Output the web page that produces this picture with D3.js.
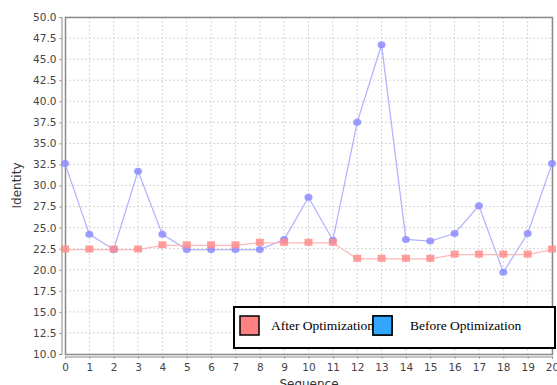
<!DOCTYPE html>
<html>
<head>
<meta charset="utf-8">
<script src="https://cdn.jsdelivr.net/npm/d3@7"></script>
<style>
  body { margin: 0; background: #fff; }
  svg { display: block; }
</style>
</head>
<body>
<div id="chart"></div>
<script>
var sequence = d3.range(0, 21);
var afterOpt = [22.4, 22.4, 22.4, 22.4, 22.9, 22.9, 22.9, 22.9, 23.2, 23.2, 23.2, 23.2,
  21.3, 21.3, 21.3, 21.3, 21.8, 21.8, 21.8, 21.8, 22.4];
var beforeOpt = [32.6, 24.2, 22.4, 31.7, 24.2, 22.4, 22.4, 22.4, 22.4, 23.6, 28.6, 23.5,
  37.5, 46.7, 23.6, 23.4, 24.3, 27.6, 19.7, 24.3, 32.6];
var yTicks = d3.range(10, 50.01, 2.5);
var seriesNames = ["After Optimization", "Before Optimization"];

var W = 557, H = 385;
var plot = { left: 65, right: 553, top: 17, bottom: 354 };

var svg = d3.select("#chart").append("svg")
  .attr("width", W)
  .attr("height", H);

var x = d3.scaleLinear().domain([0, 20]).range([plot.left, plot.right - 1]);
var y = d3.scaleLinear().domain([10, 50]).range([plot.bottom, plot.top]);

// grid
svg.append("g").selectAll("line.gx")
  .data(sequence.slice(1))
  .join("line")
  .attr("x1", d => x(d)).attr("x2", d => x(d))
  .attr("y1", plot.top).attr("y2", plot.bottom)
  .attr("stroke", "#d4d4d4").attr("stroke-dasharray", "2,2");
svg.append("g").selectAll("line.gy")
  .data(yTicks.slice(1))
  .join("line")
  .attr("x1", plot.left).attr("x2", plot.right)
  .attr("y1", d => y(d)).attr("y2", d => y(d))
  .attr("stroke", "#d4d4d4").attr("stroke-dasharray", "2,2");

// plot border
svg.append("rect")
  .attr("x", plot.left + 0.5).attr("y", plot.top + 0.5)
  .attr("width", plot.right - plot.left - 1)
  .attr("height", plot.bottom - plot.top)
  .attr("fill", "none").attr("stroke", "#8a8a8a").attr("stroke-width", 1.5);

// axes
var yAxis = svg.append("g")
  .attr("transform", "translate(61.5,0)")
  .call(d3.axisLeft(y).tickValues(yTicks).tickFormat(d3.format(".1f")).tickSize(2).tickPadding(3));
var xAxis = svg.append("g")
  .attr("transform", "translate(0,356.5)")
  .call(d3.axisBottom(x).tickValues(sequence).tickFormat(d3.format("d")).tickSize(2).tickPadding(5));
[yAxis, xAxis].forEach(function (a) {
  a.select(".domain").attr("stroke", "#8a8a8a");
  a.selectAll(".tick line").attr("stroke", "#8a8a8a");
  a.selectAll("text").attr("fill", "#444")
    .style("font-family", "'DejaVu Sans', sans-serif").style("font-size", "10.5px");
});

svg.append("text")
  .attr("transform", "translate(21," + ((plot.top + plot.bottom) / 2) + ") rotate(-90)")
  .attr("text-anchor", "middle")
  .style("font-family", "'DejaVu Sans', sans-serif").style("font-size", "12px")
  .attr("fill", "#333")
  .text("Identity");
svg.append("text")
  .attr("x", (plot.left + plot.right) / 2).attr("y", 388)
  .attr("text-anchor", "middle")
  .style("font-family", "'DejaVu Sans', sans-serif").style("font-size", "12px")
  .attr("fill", "#333")
  .text("Sequence");

// lines
var line = d3.line().x((d, i) => x(sequence[i])).y(d => y(d));
svg.append("path").datum(beforeOpt)
  .attr("d", line).attr("fill", "none")
  .attr("stroke", "#b4b4ff").attr("stroke-width", 1.3);
svg.append("path").datum(afterOpt)
  .attr("d", line).attr("fill", "none")
  .attr("stroke", "#ffb8b8").attr("stroke-width", 1.3);

svg.append("g").selectAll("ellipse")
  .data(beforeOpt)
  .join("ellipse")
  .attr("cx", (d, i) => x(sequence[i])).attr("cy", d => y(d))
  .attr("rx", 4).attr("ry", 3.5)
  .attr("fill", "#8c8cff").attr("fill-opacity", 0.85);
svg.append("g").selectAll("rect")
  .data(afterOpt)
  .join("rect")
  .attr("x", (d, i) => x(sequence[i]) - 4).attr("y", d => y(d) - 4)
  .attr("width", 8).attr("height", 7)
  .attr("fill", "#ff8c8c").attr("fill-opacity", 0.85);

// legend
var lg = svg.append("g");
lg.append("rect")
  .attr("x", 234).attr("y", 307).attr("width", 321).attr("height", 41)
  .attr("fill", "#fff").attr("stroke", "#000").attr("stroke-width", 2);
var legColors = ["#ff8080", "#33a6ff"];
var legX = [240, 373];
seriesNames.forEach(function (name, i) {
  lg.append("rect")
    .attr("x", legX[i]).attr("y", 316).attr("width", 19).attr("height", 19)
    .attr("fill", legColors[i]).attr("stroke", "#000").attr("stroke-width", 1.5);
  lg.append("text")
    .attr("x", i === 0 ? 271 : 410).attr("y", 330)
    .style("font-family", "'Liberation Serif', 'Times New Roman', serif").style("font-size", "13.5px")
    .attr("fill", "#000")
    .text(name);
});
// blue legend square overlaps end of first label
lg.append("rect")
  .attr("x", legX[1]).attr("y", 316).attr("width", 19).attr("height", 19)
  .attr("fill", legColors[1]).attr("stroke", "#000").attr("stroke-width", 1.5);
</script>
</body>
</html>
